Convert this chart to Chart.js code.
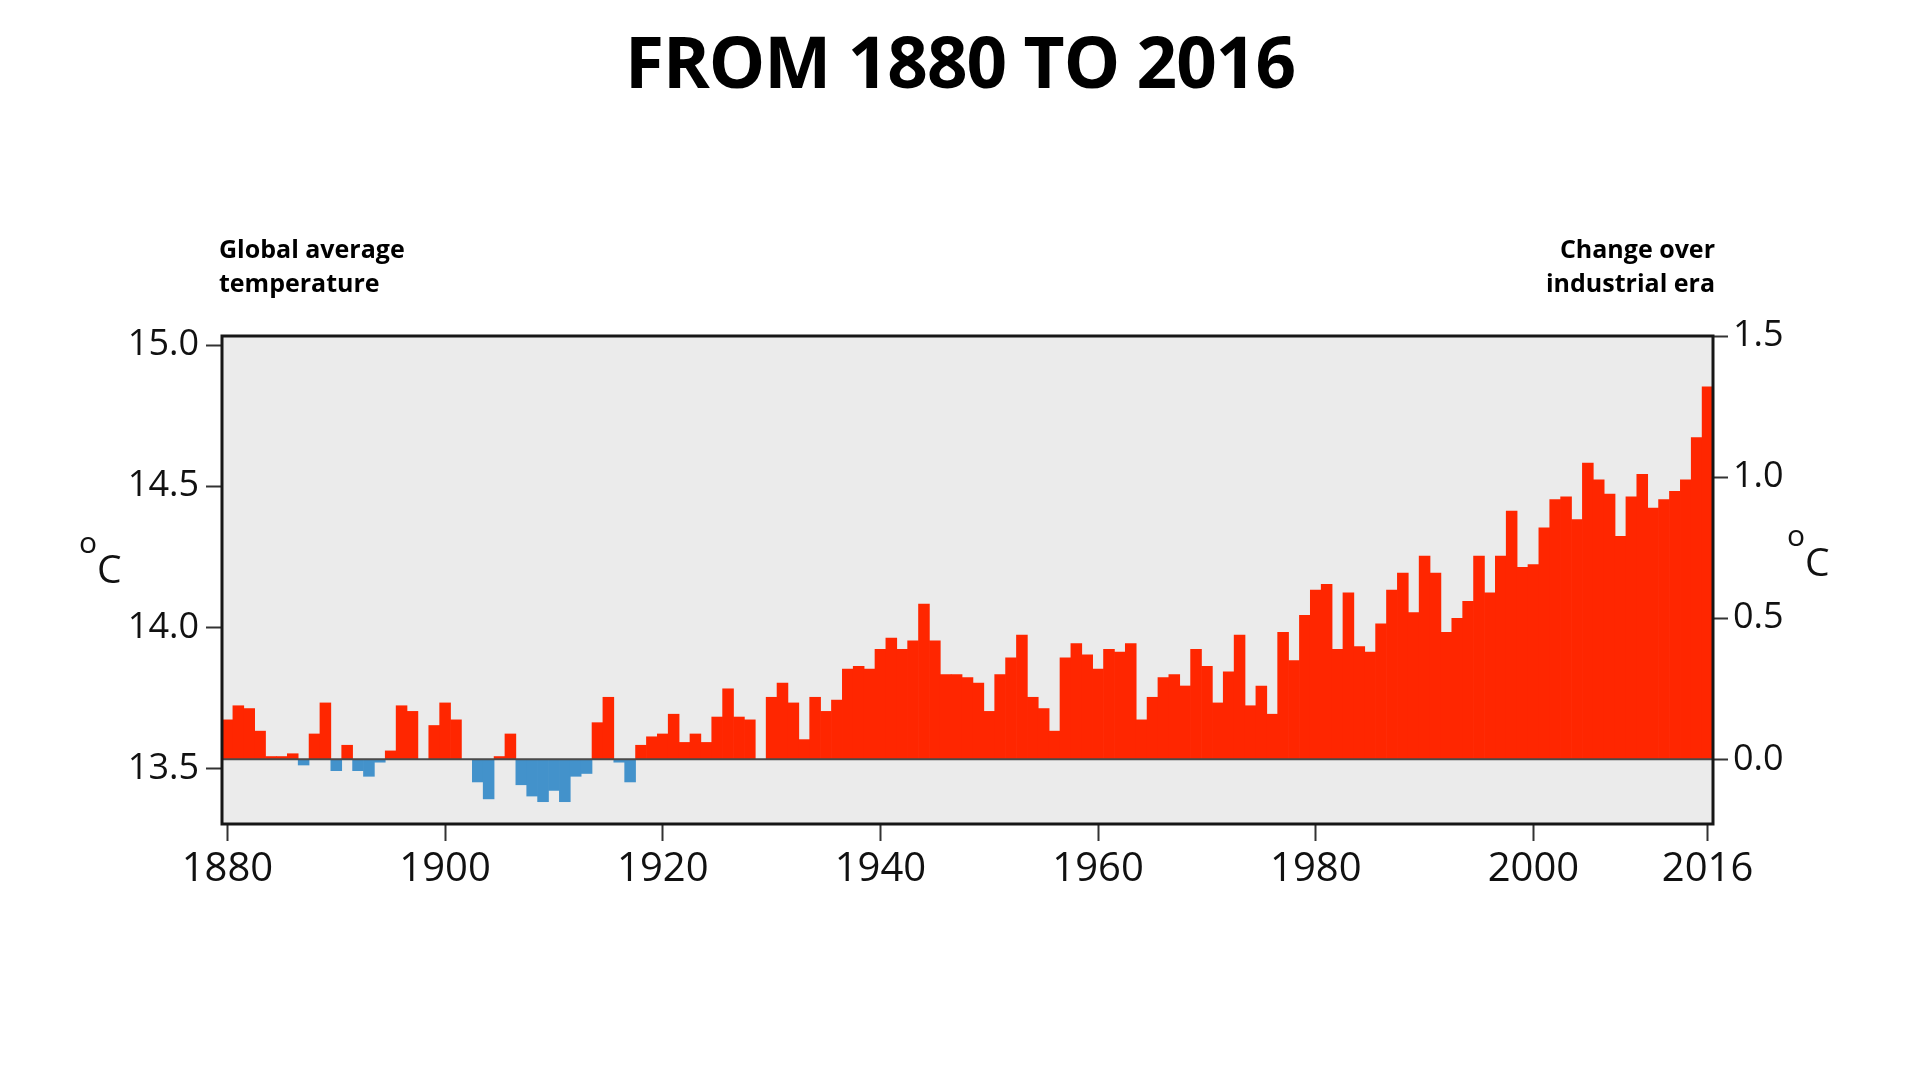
<!DOCTYPE html>
<html>
<head>
<meta charset="utf-8">
<script src="https://cdn.jsdelivr.net/npm/chart.js@4.4.1/dist/chart.umd.min.js"></script>
<style>
  body { margin: 0; background: #fff; font-family: "Open Sans", sans-serif; color: #111; }
  #wrap { position: relative; width: 1920px; height: 1080px; }
  canvas { position: absolute; left: 0; top: 0; }
  .title { position: absolute; left: 0; width: 1920px; top: 26px; text-align: center; color: #000;
           font-size: 71px; line-height: 70px; font-weight: 700; letter-spacing: -1px; }
  .corner { position: absolute; top: 231px; font-size: 25px; line-height: 34px; font-weight: 700; color: #000; }
  .unit { position: absolute; font-size: 39px; line-height: 39px; }
  .unit span { font-size: 30px; vertical-align: 30px; }
</style>
</head>
<body>
<div id="wrap">
  <canvas id="chart" width="1920" height="1080"></canvas>
  <div class="title">FROM 1880 TO 2016</div>
  <div class="corner" style="left:219px">Global average<br>temperature</div>
  <div class="corner" style="right:205px;text-align:right">Change over<br>industrial era</div>
  <div class="unit" style="left:79px;top:522px"><span>o</span>C</div>
  <div class="unit" style="left:1787px;top:515px"><span>o</span>C</div>
</div>
<script>
// years 1880..2016 (category labels)
const years = [];
for (let y = 1880; y <= 2016; y++) years.push(String(y));

// change over industrial era, degrees C, one value per year
const anomaly = [
  0.14, 0.19, 0.18, 0.10, 0.01, 0.01, 0.02, -0.02, 0.09, 0.20,   // 1880s
  -0.04, 0.05, -0.04, -0.06, -0.01, 0.03, 0.19, 0.17, 0.00, 0.12, // 1890s
  0.20, 0.14, 0.00, -0.08, -0.14, 0.01, 0.09, -0.09, -0.13, -0.15, // 1900s
  -0.11, -0.15, -0.06, -0.05, 0.13, 0.22, -0.01, -0.08, 0.05, 0.08, // 1910s
  0.09, 0.16, 0.06, 0.09, 0.06, 0.15, 0.25, 0.15, 0.14, 0.00,   // 1920s
  0.22, 0.27, 0.20, 0.07, 0.22, 0.17, 0.21, 0.32, 0.33, 0.32,   // 1930s
  0.39, 0.43, 0.39, 0.42, 0.55, 0.42, 0.30, 0.30, 0.29, 0.27,   // 1940s
  0.17, 0.30, 0.36, 0.44, 0.22, 0.18, 0.10, 0.36, 0.41, 0.37,   // 1950s
  0.32, 0.39, 0.38, 0.41, 0.14, 0.22, 0.29, 0.30, 0.26, 0.39,   // 1960s
  0.33, 0.20, 0.31, 0.44, 0.19, 0.26, 0.16, 0.45, 0.35, 0.51,   // 1970s
  0.60, 0.62, 0.39, 0.59, 0.40, 0.38, 0.48, 0.60, 0.66, 0.52,   // 1980s
  0.72, 0.66, 0.45, 0.50, 0.56, 0.72, 0.59, 0.72, 0.88, 0.68,   // 1990s
  0.69, 0.82, 0.92, 0.93, 0.85, 1.05, 0.99, 0.94, 0.79, 0.93,   // 2000s
  1.01, 0.89, 0.92, 0.95, 0.99, 1.14, 1.32                      // 2010s
];

const xTickYears = [1880, 1900, 1920, 1940, 1960, 1980, 2000, 2016];
const leftTicks = [13.5, 14.0, 14.5, 15.0];
const rightTicks = [0.0, 0.5, 1.0, 1.5];
const baseTemp = 13.532; // global average that matches 0.0 change

const red = "#ff2600";
const blue = "#4392cb";

// plot background, zero line and frame
const framePlugin = {
  id: "frame",
  beforeDraw(chart) {
    const {ctx, chartArea: a} = chart;
    ctx.save();
    ctx.fillStyle = "#ebebeb";
    ctx.fillRect(a.left, a.top, a.right - a.left, a.bottom - a.top);
    ctx.restore();
  },
  afterDatasetsDraw(chart) {
    const {ctx, chartArea: a} = chart;
    const y0 = chart.scales.y.getPixelForValue(0);
    ctx.save();
    ctx.strokeStyle = "#4a4a4a";
    ctx.lineWidth = 2;
    ctx.beginPath();
    ctx.moveTo(a.left, y0);
    ctx.lineTo(a.right, y0);
    ctx.stroke();
    ctx.strokeStyle = "#161616";
    ctx.lineWidth = 3;
    ctx.strokeRect(a.left, a.top, a.right - a.left, a.bottom - a.top);
    ctx.restore();
  }
};

const tickFont = {family: "Open Sans", size: 36};

new Chart(document.getElementById("chart"), {
  type: "bar",
  data: {
    labels: years,
    datasets: [{
      data: anomaly,
      yAxisID: "y",
      backgroundColor: ctx => (ctx.raw < 0 ? blue : red),
      borderWidth: 0,
      barPercentage: 1,
      categoryPercentage: 1
    }]
  },
  options: {
    responsive: false,
    animation: false,
    layout: {padding: {top: 336, left: 0, right: 0, bottom: 0}},
    plugins: {legend: {display: false}, tooltip: {enabled: false}, title: {display: false}},
    scales: {
      x: {
        offset: true,
        grid: {drawOnChartArea: false, offset: false, tickLength: 17, tickWidth: 2, tickColor: "#333"},
        border: {display: false},
        ticks: {autoSkip: false, maxRotation: 0, padding: 5, color: "#111",
                font: {family: "Open Sans", size: 40}},
        afterBuildTicks: s => {
          s.ticks = s.ticks.filter(t => xTickYears.includes(Number(years[t.value])));
        },
        afterFit: s => { s.height = 256; }
      },
      yL: {
        position: "left",
        min: baseTemp - 0.229,
        max: baseTemp + 1.5,
        grid: {drawOnChartArea: false, tickLength: 16, tickWidth: 2, tickColor: "#333"},
        border: {display: false},
        ticks: {padding: 7, color: "#111", font: tickFont, callback: v => v.toFixed(1)},
        afterBuildTicks: s => { s.ticks = leftTicks.map(v => ({value: v})); },
        afterFit: s => { s.width = 222; }
      },
      y: {
        position: "right",
        min: -0.229,
        max: 1.5,
        grid: {drawOnChartArea: false, tickLength: 15, tickWidth: 2, tickColor: "#333"},
        border: {display: false},
        ticks: {padding: 5, color: "#111", font: tickFont, callback: v => v.toFixed(1)},
        afterBuildTicks: s => { s.ticks = rightTicks.map(v => ({value: v})); },
        afterFit: s => { s.width = 207; }
      }
    }
  },
  plugins: [framePlugin]
});
</script>
</body>
</html>
